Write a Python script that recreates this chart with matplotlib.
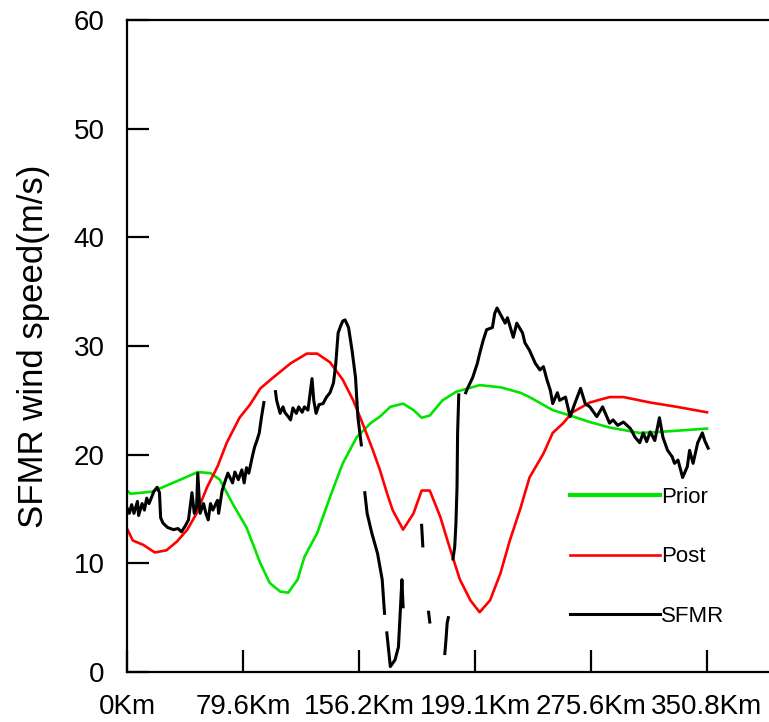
import numpy as np
import matplotlib
matplotlib.use("Agg")
import matplotlib.pyplot as plt

plt.rcParams['font.family'] = ['Liberation Sans', 'DejaVu Sans']

# x positions in "tick units" (100 per labelled tick)
tick_pos = [0, 100, 200, 300, 400, 500]
tick_labels = ['0Km', '79.6Km', '156.2Km', '199.1Km', '275.6Km', '350.8Km']
y_ticks = [0, 10, 20, 30, 40, 50, 60]

prior_x = [0, 3, 22, 46, 61, 72, 80, 91, 103, 115, 123, 132, 139, 147, 153, 164, 175,
           186, 198, 210, 218, 227, 238, 247, 254, 261, 272, 284, 304, 322, 339, 347,
           367, 382, 399, 416, 442, 460, 500]
prior_y = [16.7, 16.4, 16.6, 17.7, 18.4, 18.3, 17.7, 15.5, 13.3, 10.0, 8.2, 7.4, 7.3,
           8.5, 10.6, 12.8, 16.1, 19.2, 21.6, 22.9, 23.5, 24.4, 24.7, 24.1, 23.4, 23.6,
           25.0, 25.8, 26.4, 26.2, 25.7, 25.3, 24.1, 23.6, 23.0, 22.5, 22.0, 22.1, 22.4]

post_x = [0, 5, 14, 24, 34, 43, 52, 60, 69, 78, 86, 97, 106, 115, 126, 141, 155, 164,
          175, 186, 195, 203, 212, 218, 224, 229, 238, 247, 254, 261, 270, 278, 287,
          296, 304, 313, 322, 330, 339, 347, 359, 367, 376, 384, 399, 416, 428, 451,
          474, 500]
post_y = [13.2, 12.1, 11.7, 11.0, 11.2, 12.0, 13.1, 14.6, 17.0, 18.9, 21.1, 23.4, 24.6,
          26.1, 27.1, 28.4, 29.3, 29.3, 28.5, 26.9, 25.0, 22.9, 20.4, 18.6, 16.5, 14.9,
          13.1, 14.6, 16.7, 16.7, 14.3, 11.5, 8.5, 6.6, 5.5, 6.6, 9.1, 12.1, 15.0, 17.9,
          20.1, 22.0, 22.9, 23.9, 24.8, 25.3, 25.3, 24.8, 24.4, 23.9]

nan = np.nan
sfmr_x = [0, 2, 4, 6, 9, 10, 13, 15, 17, 19, 22, 23, 26, 28, 29, 31, 35, 40, 44, 47,
          50, 53, 56, 58, 60, 61, 63, 66, 68, 70, 72, 74, 78, 79, 82, 85, 87, 91, 93,
          96, 99, 101, 103, 105, 108, 110, 112, 114, 116, 118, nan,
          128, 129, 132, 134.5, 136, 139, 141, 143, 146, 148, 151, 153, 156, 159.5, 161,
          163, 165.5, 169, 172, 175, 178, 180, 182, 184, 186, 188, 191, 194, 197, 199,
          202, nan,
          205, 207, 211, 216, 218, 220, 222, nan,
          224, 227, 231, 234, 237, 238, nan,
          254, 255, nan,
          260, 261, nan,
          274, 275, 276, 277, nan,
          281, 282.5, 283.5, 284.5, 285, 286, nan,
          292, 294, 298, 302, 304, 307, 310, 315, 317, 319, 323, 326, 328, 333, 336,
          341, 343, 347, 352, 356, 359, 362, 365, 367, 371, 373, 378, 382, 386, 391,
          395, 399, 405, 410, 416, 419, 423, 428, 434, 438, 442, 445, 448, 451, 455,
          459, 462, 466, 470, 472, 475, 479, 483, 485, 488, 492, 496, 498, 501]
sfmr_y = [15.1, 14.6, 15.4, 14.6, 15.7, 14.4, 15.5, 14.9, 16.0, 15.5, 16.3, 16.6, 17.0,
          16.5, 14.2, 13.7, 13.3, 13.1, 13.2, 12.9, 13.4, 14.0, 16.5, 14.6, 15.2, 18.3,
          14.6, 15.5, 14.6, 14.0, 15.5, 14.9, 15.8, 14.6, 16.7, 17.7, 18.3, 17.4, 18.4,
          17.7, 18.6, 17.4, 18.8, 18.3, 19.8, 20.7, 21.3, 22.0, 23.5, 24.8, nan,
          25.8, 25.0, 23.8, 24.4, 23.9, 23.5, 23.2, 24.3, 23.8, 24.4, 23.9, 24.4, 24.1,
          27.0, 25.0, 23.8, 24.6, 24.7, 25.3, 25.7, 26.6, 28.4, 31.2, 31.8, 32.3, 32.4,
          31.7, 29.6, 27.1, 23.5, 20.9, nan,
          16.5, 14.6, 12.8, 10.9, 9.7, 8.5, 5.4, nan,
          3.6, 0.5, 1.1, 2.3, 8.5, 6.0, nan,
          13.5, 11.6, nan,
          5.5, 4.6, nan,
          1.7, 3.0, 4.5, 5.0, nan,
          10.4, 11.5, 13.5, 17.0, 22.0, 25.5, nan,
          25.7, 26.2, 27.1, 28.4, 29.3, 30.5, 31.5, 31.7, 33.0, 33.5, 32.7, 32.1, 32.6,
          30.8, 32.1, 31.2, 30.3, 29.6, 28.4, 27.8, 28.1, 26.9, 25.9, 24.7, 25.7, 25.0,
          25.3, 23.5, 24.7, 26.1, 24.7, 24.4, 23.5, 24.4, 22.9, 23.2, 22.7, 23.0, 22.4,
          21.6, 21.1, 22.0, 21.2, 22.1, 21.3, 23.4, 21.6, 20.4, 19.8, 19.2, 19.5, 17.9,
          18.9, 20.4, 19.2, 21.1, 22.0, 21.3, 20.6]

green = '#00e400'
red = '#ff0000'

fig = plt.figure(figsize=(7.69, 7.22), dpi=100)
ax = fig.add_axes([127 / 769, 50 / 722, 673 / 769, 652 / 722])

ax.plot(prior_x, prior_y, color=green, lw=1.9, label='Prior', solid_joinstyle='round')
ax.plot(post_x, post_y, color=red, lw=1.9, label='Post', solid_joinstyle='round')
ax.plot(sfmr_x, sfmr_y, color='black', lw=2.2, label='SFMR', solid_joinstyle='round')

ax.set_xlim(0, 673 / 1.16)
ax.set_ylim(0, 60)
ax.set_xticks(tick_pos)
ax.set_xticklabels(tick_labels)
ax.set_yticks(y_ticks)

ax.spines['right'].set_visible(False)
for s in ['left', 'bottom', 'top']:
    ax.spines[s].set_linewidth(1.6)
ax.tick_params(direction='in', length=16, width=1.6, labelsize=20)
ax.tick_params(axis='y', pad=16)
ax.tick_params(axis='x', pad=16)

ax.set_ylabel('SFMR wind speed(m/s)', fontsize=25, labelpad=17)

leg = ax.legend(loc='upper left', bbox_to_anchor=(382 / 580, 0.284), frameon=False,
                fontsize=16, handlelength=4.05, handletextpad=0.05, labelspacing=1.74,
                borderaxespad=0, borderpad=0)
widths = [3.0, 1.9, 2.2]
for ln, w in zip(leg.get_lines(), widths):
    ln.set_linewidth(w)

fig.savefig('out.png', dpi=100)
